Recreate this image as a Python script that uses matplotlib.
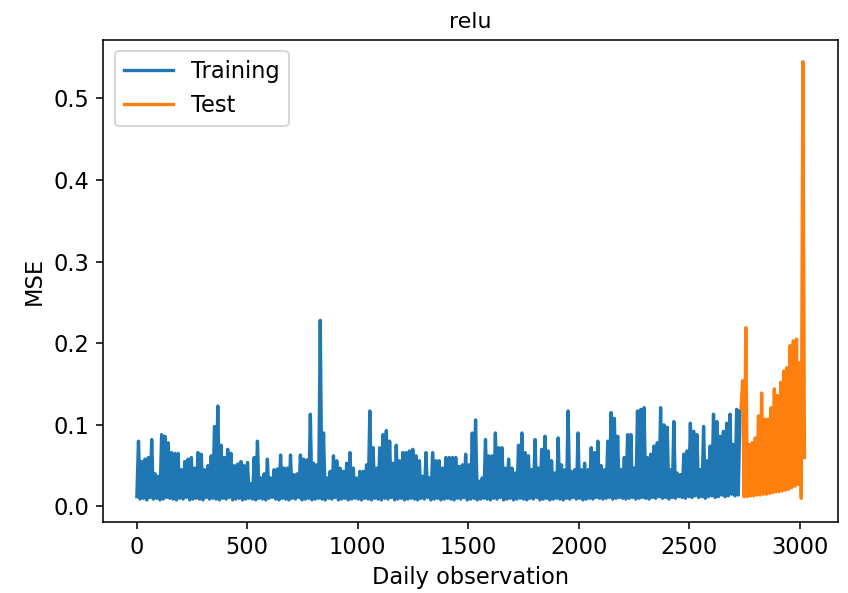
import numpy as np
import matplotlib
matplotlib.use("Agg")
import matplotlib.pyplot as plt

# upper values (spikes) of the training MSE
train_peak = [
    0.080, 0.055, 0.058, 0.060, 0.082, 0.040, 0.037, 0.088, 0.086, 0.078, 0.066, 0.065,
    0.065, 0.045, 0.055, 0.058, 0.060, 0.047, 0.066, 0.064, 0.045, 0.050, 0.062, 0.098,
    0.123, 0.075, 0.060, 0.070, 0.065, 0.050, 0.052, 0.055, 0.050, 0.054, 0.028, 0.060,
    0.080,
    0.035, 0.040, 0.058, 0.035, 0.045, 0.046, 0.063, 0.047, 0.047, 0.063, 0.039, 0.040,
    0.063, 0.058, 0.057, 0.113, 0.053, 0.051, 0.228, 0.090, 0.035, 0.043, 0.062, 0.056,
    0.047, 0.043, 0.053, 0.066, 0.047, 0.035, 0.043, 0.043, 0.051, 0.117, 0.072, 0.047,
    0.072,
    0.088, 0.093, 0.080, 0.053, 0.075, 0.056, 0.066, 0.066, 0.068, 0.070, 0.062, 0.056,
    0.037, 0.066, 0.035, 0.066, 0.056, 0.056, 0.047, 0.060, 0.060, 0.060, 0.060, 0.049,
    0.051, 0.064, 0.051, 0.090, 0.106, 0.031, 0.035, 0.082, 0.062, 0.062, 0.090, 0.072,
    0.072, 0.047,
    0.058, 0.047, 0.041, 0.075, 0.090, 0.066, 0.062, 0.045, 0.082, 0.047, 0.070, 0.086,
    0.068, 0.056, 0.041, 0.084, 0.051, 0.045, 0.117, 0.043, 0.045, 0.090, 0.045, 0.053,
    0.045, 0.072, 0.066, 0.080, 0.050, 0.045, 0.080, 0.115, 0.108, 0.086, 0.045, 0.060,
    0.088,
    0.088, 0.047, 0.117, 0.119, 0.121, 0.060, 0.064, 0.074, 0.078, 0.121, 0.100, 0.097,
    0.045, 0.104, 0.041, 0.039, 0.064, 0.068, 0.102, 0.092, 0.088, 0.045, 0.098, 0.056,
    0.074, 0.113, 0.104, 0.086, 0.092, 0.102, 0.113, 0.076, 0.119, 0.117,
]

# lower values between the spikes
train_floor = [
    0.012, 0.009, 0.010, 0.008, 0.011, 0.009, 0.010, 0.008, 0.009, 0.011, 0.010, 0.009,
    0.008, 0.010, 0.009, 0.011, 0.008, 0.009, 0.010, 0.009, 0.008, 0.011, 0.009, 0.010,
    0.009, 0.008, 0.010, 0.009, 0.011, 0.008, 0.009, 0.010, 0.008, 0.009, 0.010, 0.009,
    0.008,
    0.010, 0.009, 0.008, 0.010, 0.011, 0.009, 0.008, 0.010, 0.009, 0.008, 0.010, 0.009,
    0.011, 0.008, 0.009, 0.010, 0.008, 0.009, 0.010, 0.009, 0.008, 0.010, 0.009, 0.011,
    0.008, 0.009, 0.010, 0.008, 0.009, 0.010, 0.009, 0.008, 0.010, 0.009, 0.008, 0.010,
    0.009,
    0.008, 0.010, 0.009, 0.011, 0.008, 0.009, 0.010, 0.008, 0.009, 0.010, 0.009, 0.008,
    0.010, 0.009, 0.011, 0.008, 0.009, 0.010, 0.008, 0.009, 0.010, 0.009, 0.008, 0.010,
    0.009, 0.011, 0.008, 0.009, 0.010, 0.008, 0.009, 0.010, 0.009, 0.008, 0.010, 0.009,
    0.011, 0.008,
    0.009, 0.010, 0.008, 0.009, 0.010, 0.009, 0.008, 0.010, 0.009, 0.011, 0.008, 0.009,
    0.010, 0.008, 0.009, 0.010, 0.009, 0.008, 0.010, 0.009, 0.011, 0.009, 0.010, 0.008,
    0.009, 0.010, 0.009, 0.011, 0.010, 0.009, 0.010, 0.011, 0.009, 0.010, 0.011, 0.010,
    0.009,
    0.010, 0.011, 0.009, 0.010, 0.011, 0.010, 0.009, 0.011, 0.010, 0.012, 0.010, 0.011,
    0.009, 0.011, 0.010, 0.012, 0.011, 0.010, 0.012, 0.011, 0.013, 0.011, 0.012, 0.010,
    0.012, 0.013, 0.011, 0.012, 0.014, 0.012, 0.013, 0.015, 0.013, 0.014,
]

test_peak = [
    0.154, 0.219, 0.076, 0.078, 0.084, 0.111, 0.139, 0.107, 0.107, 0.121,
    0.144, 0.136, 0.152, 0.166, 0.170, 0.197, 0.203, 0.205, 0.176, 0.545,
]
test_floor = [
    0.120, 0.012, 0.012, 0.013, 0.013, 0.014, 0.014, 0.015, 0.015, 0.016,
    0.017, 0.018, 0.018, 0.019, 0.020, 0.021, 0.023, 0.025, 0.027, 0.010,
]
test_last = 0.060

train_start, train_end = 0, 2730
test_start, test_end = 2735, 3022

# alternate low / high values like the daily series does
train = np.column_stack([train_floor, train_peak]).ravel()
test = np.append(np.column_stack([test_floor, test_peak]).ravel(), test_last)

x_train = np.linspace(train_start, train_end, len(train))
x_test = np.linspace(test_start, test_end, len(test))

plt.rcParams["font.size"] = 11.5
plt.rcParams["lines.linewidth"] = 1.7

fig = plt.figure(figsize=(848 / 141, 593 / 141), dpi=141)
plt.plot(x_train, train, label="Training")
plt.plot(x_test, test, label="Test")
plt.title("relu", fontsize=11.3)
plt.xlabel("Daily observation")
plt.ylabel("MSE")
plt.legend(loc="upper left", handlelength=2.2)
plt.subplots_adjust(left=0.122, right=0.988, top=0.933, bottom=0.12)
plt.savefig("out.png", dpi=141)
